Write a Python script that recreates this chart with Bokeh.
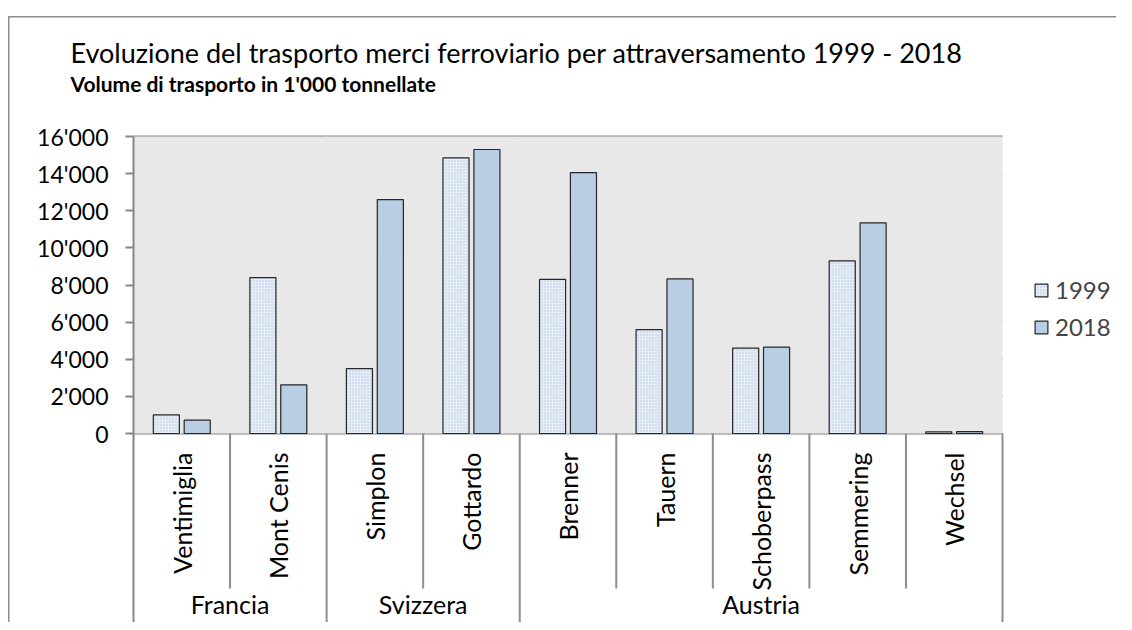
import numpy as np
from math import pi
from bokeh.plotting import figure
from bokeh.models import (ColumnDataSource, Range1d, FixedTicker, Legend, Label,
                          LegendItem, BoxAnnotation, GlobalInlineStyleSheet)
from bokeh.transform import dodge
from bokeh.core.properties import value
from bokeh.embed import file_html
from bokeh.resources import INLINE

# ---------------- data ----------------
groups = ["Francia", "Svizzera", "Austria"]
group_sizes = [2, 2, 5]
categories = ["Ventimiglia", "Mont Cenis", "Simplon", "Gottardo", "Brenner",
              "Tauern", "Schoberpass", "Semmering", "Wechsel"]
series_names = ["1999", "2018"]
v1999 = [1000, 8400, 3500, 14850, 8300, 5600, 4600, 9300, 90]
v2018 = [720, 2620, 12600, 15300, 14050, 8330, 4650, 11350, 100]
tick_values = [0, 2000, 4000, 6000, 8000, 10000, 12000, 14000, 16000]
tick_labels = ["0", "2'000", "4'000", "6'000", "8'000", "10'000", "12'000", "14'000", "16'000"]
title_text = "Evoluzione del trasporto merci ferroviario per attraversamento 1999 - 2018"
subtitle_text = "Volume di trasporto in 1'000 tonnellate"

# ---------------- layout (pixels) ----------------
FONT = "Lato"
W, H = 1116, 622
PX_LEFT = 133.0         # left edge of plot area
PX_TOP = 136.0          # top of plot area (16'000)
PLOT_H = 297.0          # pixels for 0..16'000
CAT_W = 869.0 / 9       # pixels per category
YMAX = 16000
n = len(categories)
dpp = YMAX / PLOT_H                       # data units per pixel (y)
x_lo = -PX_LEFT / CAT_W
x_hi = (W - PX_LEFT) / CAT_W
y_hi = YMAX + PX_TOP * dpp
y_lo = -(H - PX_TOP - PLOT_H) * dpp


def xpx(px):            # canvas x pixel -> data x
    return (px - PX_LEFT) / CAT_W


def ypx(py):            # canvas y pixel -> data y
    return YMAX + (PX_TOP - py) * dpp


p = figure(width=W, height=H, x_range=Range1d(x_lo, x_hi), y_range=Range1d(y_lo, y_hi),
           output_backend="svg", toolbar_location=None, x_axis_location=None,
           min_border_left=0, min_border_right=0, min_border_top=0, min_border_bottom=0)
p.outline_line_color = None
p.background_fill_alpha = 0
p.border_fill_alpha = 0
# outer chart frame: top line 16px below the canvas top, left line 8px in
p.styles = {"box-shadow": "inset 8px 16px 0 0 white, inset 9.5px 17.5px 0 0 #8c8c8c"}
p.stylesheets = [GlobalInlineStyleSheet(css="html, body { overflow: hidden; }")]

# plot area background
p.add_layout(BoxAnnotation(left=0, right=n, bottom=0, top=YMAX, fill_color="#e8e8e8",
                           fill_alpha=1, line_color=None, level="image"))

# y axis, fixed at the left edge of the plot area
ticker = FixedTicker(ticks=tick_values)
ax = p.yaxis[0]
ax.fixed_location = 0
ax.ticker = ticker
ax.major_label_overrides = dict(zip(tick_values, tick_labels))
ax.bounds = (y_lo, YMAX)
ax.axis_line_color = "#868686"
ax.axis_line_width = 2
ax.major_tick_line_color = "#868686"
ax.major_tick_line_width = 2
ax.major_tick_out = 8
ax.major_tick_in = 0
ax.minor_tick_line_color = None
ax.major_label_text_font = FONT
ax.major_label_text_font_size = "23px"
ax.major_label_text_color = "black"
ax.major_label_standoff = 17

p.xgrid.visible = False
p.ygrid.visible = False
# horizontal gridlines across the plot area, at the axis ticks
p.segment(x0=0, x1=n, y0=tick_values, y1=tick_values, line_color="#868686",
          line_width=2, level="image")

# group boundaries / separators
bounds_grp = list(np.cumsum(group_sizes))          # 2, 4, 9
inner = [i for i in range(1, n) if i not in bounds_grp]
p.segment(x0=bounds_grp[:-1], x1=bounds_grp[:-1], y0=0, y1=YMAX,
          line_color="#d0d0d0", line_width=2, level="image")
p.segment(x0=inner, x1=inner, y0=0, y1=-155 * dpp, line_color="#8c8c8c", line_width=2)
p.segment(x0=bounds_grp, x1=bounds_grp, y0=0, y1=y_lo, line_color="#8c8c8c", line_width=2)

# bars
centers = np.arange(n) + 0.5
src = ColumnDataSource(dict(x=centers, v1999=v1999, v2018=v2018))
r1 = p.vbar(x=dodge("x", -0.16), top="v1999", width=0.27, source=src,
            fill_color="#e6edf6", hatch_pattern=".", hatch_color="#b0c6e2",
            hatch_scale=3, hatch_weight=1.5,
            line_color="#262626", line_width=1.2)
r2 = p.vbar(x=dodge("x", 0.16), top="v2018", width=0.27, source=src,
            fill_color="#b9cde5", line_color="#262626", line_width=1.2)

# category labels
p.text(x=centers, y=-19 * dpp, text=categories, angle=pi / 2,
       text_align="right", text_baseline="middle",
       text_font=value(FONT), text_font_size="25px", text_color="black")
gstarts = np.concatenate([[0], np.cumsum(group_sizes)[:-1]])
gcenters = gstarts + np.array(group_sizes) / 2
p.text(x=gcenters, y=ypx(603), text=groups, text_align="center", text_baseline="middle",
       text_font=value(FONT), text_font_size="25px", text_color="black")

# titles
p.add_layout(Label(x=xpx(70), y=ypx(52), text=title_text, text_font=FONT,
                   text_font_size="27px", text_color="black", text_baseline="alphabetic"))
p.add_layout(Label(x=xpx(70), y=ypx(83), text=subtitle_text, text_font=FONT,
                   text_font_size="21px", text_font_style="bold", text_color="black",
                   text_baseline="alphabetic"))

# legend
legend = Legend(items=[LegendItem(label=series_names[0], renderers=[r1]),
                       LegendItem(label=series_names[1], renderers=[r2])],
                location=(1033, 281), margin=0, padding=0,
                glyph_width=16, glyph_height=16, label_standoff=6, spacing=8,
                label_text_font=FONT, label_text_font_size="24px",
                border_line_color=None, background_fill_alpha=0)
p.add_layout(legend)

open("out.html", "w").write(file_html(p, INLINE))
